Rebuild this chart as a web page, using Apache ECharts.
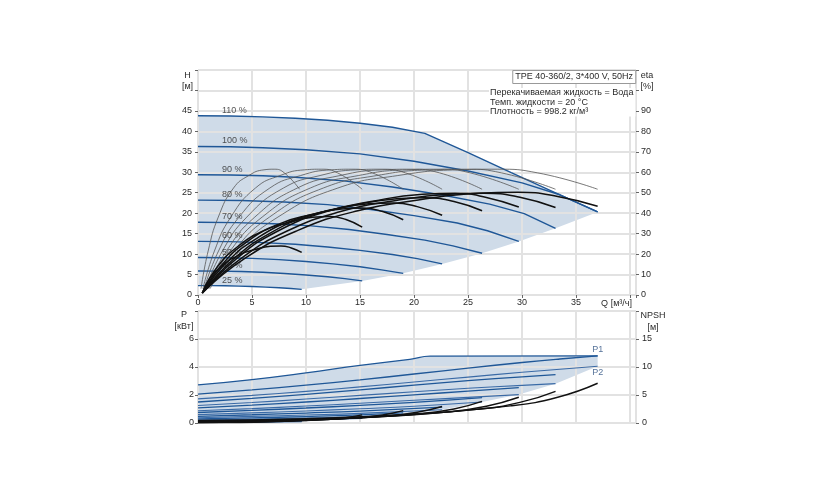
<!DOCTYPE html>
<html><head><meta charset="utf-8">
<script src="https://cdn.jsdelivr.net/npm/echarts/dist/echarts.min.js"></script>
<style>html,body{margin:0;padding:0;background:#fff}#c{width:840px;height:500px}</style>
</head><body><div id="c"></div>
<script>
// ---------- top chart: head curves H [m] vs Q [m3/h] ----------
const speedLabels = ['110 %','100 %','90 %','80 %','70 %','60 %','50 %','40 %','25 %'];
const head110 = [[0,43.8],[3,43.75],[6,43.55],[9,43.2],[12,42.7],[15,42.0],[18,41.0],[21,39.5],[25,34.8],[29,29.9],[33,25.1],[37,20.3]];
const head100 = [[0,36.3],[3,36.25],[6,36.0],[10,35.5],[15,34.5],[20,32.7],[25,30.3],[30,27.4],[33.5,24.5],[37,20.3]];
const head90  = [[0,29.4],[3,29.35],[6,29.15],[9,28.8],[13.5,27.9],[18,26.4],[22.5,24.5],[27,22.2],[30.2,19.9],[33.1,16.3]];
const head80  = [[0,23.2],[4,23.1],[8,22.75],[12,22.1],[16,20.9],[20,19.4],[24,17.6],[26.8,15.7],[29.7,13.1]];
const head70  = [[0,17.8],[3.5,17.7],[7,17.4],[10.5,16.9],[14,16.0],[17.5,14.8],[21,13.4],[23.6,12.0],[26.3,10.2]];
const head60  = [[0,13.1],[3,13.05],[6,12.8],[9,12.4],[12,11.75],[15,10.9],[18,9.9],[20.3,8.9],[22.6,7.6]];
const head50  = [[0,9.15],[2.5,9.1],[5,8.95],[7.5,8.65],[10,8.2],[12.5,7.6],[15,6.9],[17,6.15],[19,5.3]];
const head40  = [[0,5.85],[2,5.83],[4,5.75],[6,5.55],[8,5.25],[10,4.9],[12,4.45],[13.6,4.0],[15.2,3.45]];
const head25  = [[0,2.3],[1.25,2.29],[2.5,2.25],[3.75,2.18],[5,2.07],[6.25,1.93],[7.5,1.76],[8.6,1.58],[9.6,1.38]];

// total efficiency (bold black) eta [%] vs Q
const etaTot25  = [[0.4,1],[1.15,8.6],[2.4,15.1],[3.84,19.7],[5.28,22.2],[6.72,23.8],[7.68,24],[8.64,23],[9.6,20.8]];
const etaTot40  = [[0.4,1],[1.8,13.8],[3.8,24.2],[6.1,31.5],[8.4,35.5],[10.6,38],[12.2,38.4],[13.7,36.9],[15.2,33.2]];
const etaTot50  = [[0.4,1],[2.3,15.3],[4.75,26.8],[7.6,34.9],[10.5,39.3],[13.3,42.1],[15.2,42.5],[17.1,40.8],[19,36.8]];
const etaTot60  = [[0.4,1],[2.7,16.2],[5.65,28.4],[9,36.9],[12.4,41.6],[15.8,44.6],[18.1,45],[20.3,43.2],[22.6,39]];
const etaTot70  = [[0.4,1],[3.2,17.1],[6.6,30],[10.5,39],[14.5,44],[18.4,47.1],[21,47.6],[23.7,45.7],[26.3,41.2]];
const etaTot80  = [[0.4,1],[3.6,17.9],[7.4,31.3],[11.9,40.8],[16.3,46],[20.8,49.2],[23.8,49.7],[26.7,47.7],[29.7,43]];
const etaTot90  = [[0.4,1],[4,17.9],[8.3,31.4],[13.2,40.8],[18.2,46.1],[23.2,49.3],[26.5,49.8],[29.8,47.8],[33.1,42.8]];
const etaTot100 = [[0.4,1],[4.4,18.1],[9.25,31.6],[14.8,41.2],[20.4,46.4],[25.9,49.7],[29.6,50.2],[33.3,48.2],[37,43.4]];

// hydraulic efficiency (thin grey) eta [%] vs Q
const etaHydValues = [3.1,21.5,38.1,52.3,58.4,61.2,61.5,59.7,51.7];
const etaHydQ25  = [0.28,0.94,1.88,3.29,4.7,6.11,7.05,7.99,9.4];
const etaHydQ40  = [0.46,1.52,3.04,5.32,7.6,9.88,11.4,12.92,15.2];
const etaHydQ50  = [0.57,1.9,3.8,6.65,9.5,12.35,14.25,16.15,19];
const etaHydQ60  = [0.68,2.26,4.52,7.91,11.3,14.69,16.95,19.21,22.6];
const etaHydQ70  = [0.79,2.63,5.26,9.2,13.15,17.1,19.7,22.36,26.3];
const etaHydQ80  = [0.89,2.97,5.94,10.4,14.85,19.3,22.3,25.2,29.7];
const etaHydQ90  = [0.99,3.31,6.62,11.6,16.55,21.5,24.8,28.1,33.1];
const etaHydQ100 = [1.11,3.7,7.4,12.95,18.5,24.05,27.75,31.45,37];

// ---------- bottom chart: P [kW] and NPSH [m] vs Q ----------
const p1_110 = [[0,2.72],[5,3.1],[10,3.58],[15,4.12],[19.6,4.55],[21.5,4.78],[37,4.8]];
const p1_100 = [[0,2.06],[5,2.36],[10,2.7],[15,3.08],[20,3.5],[25,3.92],[30,4.32],[33.5,4.57],[37,4.79]];
const p2_100 = [[0,1.72],[5,1.97],[10,2.26],[15,2.58],[20,2.93],[25,3.28],[30,3.62],[33.5,3.84],[37,4.05]];
const p1_90 = [[0,1.5],[5,1.76],[10,2.05],[15,2.37],[20,2.7],[25,3.02],[30,3.3],[33.1,3.46]];
const p2_90 = [[0,1.25],[5,1.46],[10,1.71],[15,1.97],[20,2.23],[25,2.48],[30,2.69],[33.1,2.81]];
const p1_80 = [[0,1.08],[5,1.27],[10,1.5],[15,1.75],[20,2.01],[25,2.28],[29.7,2.53]];
const p2_80 = [[0,0.88],[5,1.03],[10,1.21],[15,1.41],[20,1.62],[25,1.83],[29.7,2.03]];
const p1_70 = [[0,0.75],[5,0.9],[10,1.07],[15,1.26],[20,1.47],[26.3,1.81]];
const p2_70 = [[0,0.6],[5,0.72],[10,0.86],[15,1.02],[20,1.2],[26.3,1.5]];
const p1_60 = [[0,0.48],[5,0.59],[10,0.71],[15,0.85],[22.6,1.14]];
const p2_60 = [[0,0.38],[5,0.47],[10,0.57],[15,0.69],[22.6,0.95]];
const p1_50 = [[0,0.3],[5,0.37],[10,0.46],[15,0.58],[19,0.72]];
const p2_50 = [[0,0.22],[5,0.28],[10,0.35],[15,0.46],[19,0.58]];
const p1_40 = [[0,0.17],[5,0.22],[10,0.29],[15.2,0.42]];
const p2_40 = [[0,0.12],[5,0.16],[10,0.22],[15.2,0.33]];
const p1_25 = [[0,0.06],[5,0.09],[9.6,0.14]];
const p2_25 = [[0,0.04],[5,0.06],[9.6,0.1]];

const npsh100 = [[0,0.46],[10,0.78],[20,1.6],[28.9,3.05],[33.3,4.6],[37,7.1]];
const npsh90  = [[0,0.37],[8.9,0.62],[17.9,1.27],[25.8,2.43],[29.8,3.68],[33.1,5.66]];
const npsh80  = [[0,0.3],[8,0.51],[16,1.04],[23.2,1.98],[26.7,2.99],[29.7,4.6]];
const npsh70  = [[0,0.25],[7.1,0.42],[14.2,0.87],[20.5,1.66],[23.7,2.5],[26.3,3.85]];
const npsh60  = [[0,0.19],[6.1,0.32],[12.2,0.66],[17.6,1.27],[20.3,1.92],[22.6,2.95]];
const npsh50  = [[0,0.14],[5.1,0.24],[10.3,0.5],[14.8,0.95],[17.1,1.43],[19,2.2]];
const npsh40  = [[0,0.1],[4.1,0.16],[8.2,0.33],[11.9,0.62],[13.7,0.94],[15.2,1.45]];
const npsh25  = [[0,0.04],[2.6,0.07],[5.2,0.14],[7.5,0.26],[8.6,0.39],[9.6,0.6]];

const infoTitle = 'TPE 40-360/2, 3*400 V, 50Hz';
const infoText = 'Перекачиваемая жидкость = Вода\nТемп. жидкости = 20 °C\nПлотность = 998.2 кг/м³';

// ---------- build ----------
const FONT = '"Liberation Sans", Arial, sans-serif';
const BLUE = '#1f5797';
const FILL = '#cfdbe8';
const GRIDC = '#e2e2e2';
const TXT = '#2a2a2a';

const headCurves = [head110, head100, head90, head80, head70, head60, head50, head40, head25];
const etaTot = [etaTot25, etaTot40, etaTot50, etaTot60, etaTot70, etaTot80, etaTot90, etaTot100];
const etaHydQ = [etaHydQ25, etaHydQ40, etaHydQ50, etaHydQ60, etaHydQ70, etaHydQ80, etaHydQ90, etaHydQ100];
const p1s = [p1_110, p1_100, p1_90, p1_80, p1_70, p1_60, p1_50, p1_40, p1_25];
const p2s = [p2_100, p2_90, p2_80, p2_70, p2_60, p2_50, p2_40, p2_25];
const npshs = [npsh100, npsh90, npsh80, npsh70, npsh60, npsh50, npsh40, npsh25];

const topPoly = head110
  .concat(headCurves.slice(1).map(c => c[c.length - 1]))
  .concat(head25.slice().reverse());
const botPoly = p1_110
  .concat(p2s.map(c => c[c.length - 1]))
  .concat(p2_25.slice().reverse());

function polySeries(pts, xi, yi) {
  return {
    type: 'custom', xAxisIndex: xi, yAxisIndex: yi, z: -1, silent: true,
    data: [[0, 0]],
    renderItem: (params, api) => ({
      type: 'polygon',
      shape: { points: pts.map(p => api.coord(p)) },
      style: { fill: FILL, stroke: null }
    })
  };
}
function lineSeries(data, xi, yi, color, width, smooth, z) {
  return {
    type: 'line', data: data, xAxisIndex: xi, yAxisIndex: yi, symbol: 'none',
    smooth: smooth, z: z, silent: true,
    lineStyle: { color: color, width: width }
  };
}

const series = [];
series.push(polySeries(topPoly, 0, 0));
series.push(polySeries(botPoly, 1, 2));
headCurves.forEach(c => series.push(lineSeries(c, 0, 0, BLUE, 1.4, false, 3)));
etaHydQ.forEach(qs => series.push(lineSeries(qs.map((q, i) => [q, etaHydValues[i]]), 0, 1, '#555', 0.8, true, 4)));
etaTot.forEach(c => series.push(lineSeries(c, 0, 1, '#111', 1.5, true, 5)));
// speed labels
series.push({
  type: 'scatter', xAxisIndex: 0, yAxisIndex: 0, symbolSize: 0, z: 4, silent: true,
  data: headCurves.map(c => c[0]),
  label: {
    show: true, position: 'top', align: 'left', offset: [24, 0], distance: 1,
    formatter: p => speedLabels[p.dataIndex],
    fontSize: 9, color: TXT, fontFamily: FONT
  }
});
p1s.forEach(c => series.push(lineSeries(c, 1, 2, BLUE, 1.3, true, 3)));
p2s.forEach(c => series.push(lineSeries(c, 1, 2, '#3a6aa6', 1.1, true, 3)));
npshs.forEach(c => series.push(lineSeries(c, 1, 3, '#111', 1.4, true, 4)));
series.push({
  type: 'scatter', xAxisIndex: 1, yAxisIndex: 2, symbolSize: 0, z: 6, silent: true,
  data: [
    { value: p1_110[p1_110.length - 1], label: { position: 'top', formatter: 'P1' } },
    { value: p2_100[p2_100.length - 1], label: { position: 'bottom', formatter: 'P2' } }
  ],
  label: { show: true, distance: 2, fontSize: 9, color: '#2a4f80', fontFamily: FONT }
});

function xAxisCfg(gi, showLabels) {
  return {
    type: 'value', gridIndex: gi, min: 0, max: 40.55, interval: 5,
    axisLine: { show: false },
    axisTick: { show: showLabels, length: 3, lineStyle: { color: '#666' } },
    axisLabel: {
      show: showLabels, margin: 3, fontSize: 9, color: TXT, fontFamily: FONT,
      formatter: v => (v <= 35 ? String(v) : '')
    },
    splitLine: { show: true, lineStyle: { color: GRIDC, width: 2 } },
    name: showLabels ? 'Q [м³/ч]' : '',
    nameLocation: 'end', nameGap: -4,
    nameTextStyle: { align: 'right', verticalAlign: 'top', padding: [4, 0, 0, 0], fontSize: 9, color: TXT, fontFamily: FONT }
  };
}
function yAxisCfg(gi, pos, max, interval, maxLabel, name, split, margin, nameCfg) {
  return {
    type: 'value', gridIndex: gi, position: pos, min: 0, max: max, interval: interval,
    axisLine: { show: false },
    axisTick: { show: true, length: 3, lineStyle: { color: '#666' } },
    axisLabel: {
      margin: margin, fontSize: 9, color: TXT, fontFamily: FONT,
      formatter: v => (v <= maxLabel ? String(v) : '')
    },
    splitLine: { show: split, lineStyle: { color: GRIDC, width: 2 } },
    name: name, nameLocation: 'end', nameGap: nameCfg.gap,
    nameTextStyle: {
      align: 'center', verticalAlign: 'top', padding: nameCfg.pad, lineHeight: nameCfg.lh,
      fontSize: 9, color: TXT, fontFamily: FONT
    }
  };
}

const option = {
  animation: false,
  backgroundColor: '#fff',
  textStyle: { fontFamily: FONT },
  title: [
    {
      text: infoTitle, right: 204, top: 70, padding: [2, 3, 2, 3],
      borderColor: '#999', borderWidth: 1, backgroundColor: '#fff',
      textStyle: { fontSize: 9, fontWeight: 'normal', color: TXT, lineHeight: 10, fontFamily: FONT }
    },
    {
      text: infoText, left: 489, top: 88, padding: [0, 2, 0, 1], backgroundColor: '#fff',
      textStyle: { fontSize: 9, fontWeight: 'normal', color: TXT, lineHeight: 9.5, fontFamily: FONT }
    }
  ],
  grid: [
    { left: 198, right: 204, top: 70, bottom: 205, show: true, borderColor: '#808080', borderWidth: 1, backgroundColor: 'transparent' },
    { left: 198, right: 204, top: 311, bottom: 77, show: true, borderColor: '#808080', borderWidth: 1, backgroundColor: 'transparent' }
  ],
  xAxis: [xAxisCfg(0, true), xAxisCfg(1, false)],
  yAxis: [
    yAxisCfg(0, 'left', 55, 5, 45, 'H\n[м]', true, 6, { gap: 0, pad: [0, 21, 0, 0], lh: 11 }),
    yAxisCfg(0, 'right', 110, 10, 90, 'eta\n[%]', false, 5, { gap: 0, pad: [0, 0, 0, 22], lh: 11 }),
    yAxisCfg(1, 'left', 8, 2, 6, 'P\n[кВт]', true, 4, { gap: 2, pad: [0, 28, 0, 0], lh: 12 }),
    yAxisCfg(1, 'right', 20, 5, 15, 'NPSH\n[м]', false, 6, { gap: 1, pad: [0, 0, 0, 34], lh: 11.5 })
  ],
  series: series
};

const chart = echarts.init(document.getElementById('c'), null, { renderer: 'canvas' });
chart.setOption(option);
</script></body></html>
